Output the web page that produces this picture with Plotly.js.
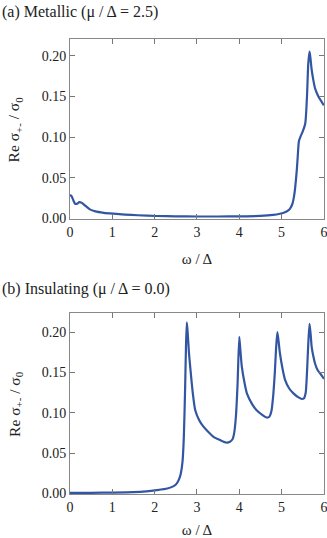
<!DOCTYPE html>
<html>
<head>
<meta charset="utf-8">
<script src="https://cdn.plot.ly/plotly-3.0.1.min.js"></script>
<style>
  html, body { margin: 0; padding: 0; background: #fff; }
  #chart { width: 327px; height: 538px; }
</style>
</head>
<body>
<div id="chart"></div>
<script>
// (a) metallic, mu/Delta = 2.5
var metalW = [0, 0.04, 0.08, 0.12, 0.17, 0.22, 0.28, 0.35, 0.47, 0.6, 0.8, 1.02, 1.3, 1.6, 2.05, 2.5, 3.0, 3.5, 4.0, 4.5, 4.8, 4.96, 5.08, 5.15, 5.2, 5.25, 5.28, 5.31, 5.34, 5.36, 5.38, 5.41, 5.45, 5.5, 5.56, 5.6, 5.63, 5.66, 5.68, 5.71, 5.75, 5.79, 5.85, 5.9, 5.95, 6.0];
var metalS = [0.029, 0.027, 0.022, 0.018, 0.018, 0.020, 0.019, 0.016, 0.011, 0.0085, 0.0068, 0.0057, 0.0046, 0.0038, 0.0029, 0.0025, 0.0023, 0.0023, 0.0025, 0.003, 0.0042, 0.0057, 0.0075, 0.0095, 0.012, 0.017, 0.023, 0.033, 0.048, 0.060, 0.075, 0.095, 0.101, 0.107, 0.117, 0.150, 0.190, 0.205, 0.198, 0.183, 0.170, 0.160, 0.152, 0.147, 0.143, 0.139];

// (b) insulating, mu/Delta = 0.0
var insW = [0, 0.5, 1.02, 1.5, 1.8, 2.05, 2.3, 2.45, 2.52, 2.58, 2.62, 2.66, 2.69, 2.72, 2.74, 2.76, 2.78, 2.81, 2.84, 2.9, 2.96, 3.05, 3.15, 3.27, 3.39, 3.55, 3.7, 3.78, 3.84, 3.88, 3.92, 3.96, 4.0, 4.03, 4.06, 4.12, 4.18, 4.3, 4.41, 4.55, 4.65, 4.71, 4.76, 4.8, 4.84, 4.87, 4.9, 4.93, 4.96, 5.02, 5.08, 5.18, 5.28, 5.4, 5.48, 5.53, 5.57, 5.6, 5.63, 5.66, 5.69, 5.71, 5.75, 5.79, 5.85, 5.92, 6.0];
var insS = [0.0005, 0.0007, 0.001, 0.0015, 0.0025, 0.004, 0.006, 0.009, 0.012, 0.018, 0.025, 0.04, 0.07, 0.13, 0.18, 0.212, 0.20, 0.175, 0.157, 0.125, 0.103, 0.091, 0.083, 0.076, 0.070, 0.066, 0.063, 0.064, 0.067, 0.075, 0.095, 0.136, 0.194, 0.175, 0.157, 0.138, 0.124, 0.111, 0.103, 0.097, 0.094, 0.095, 0.102, 0.12, 0.15, 0.18, 0.200, 0.188, 0.174, 0.155, 0.141, 0.130, 0.124, 0.119, 0.117, 0.118, 0.125, 0.15, 0.185, 0.210, 0.195, 0.182, 0.170, 0.161, 0.153, 0.148, 0.142];

var xTicks = [0, 1, 2, 3, 4, 5, 6];
var yTicks = [0, 0.05, 0.10, 0.15, 0.20];

var LINE = { color: "#3356a2", width: 2.2, shape: "spline", smoothing: 0.6 };
var SERIF = "Liberation Serif, Times New Roman, serif";

var data = [
  { x: metalW, y: metalS, type: "scatter", mode: "lines", line: LINE, xaxis: "x", yaxis: "y", hoverinfo: "skip" },
  { x: insW, y: insS, type: "scatter", mode: "lines", line: LINE, xaxis: "x2", yaxis: "y2", hoverinfo: "skip" }
];

var xAxisStyle = function(anchor) {
  return {
    anchor: anchor,
    range: [0, 6.002],
    tickvals: xTicks,
    ticks: "inside",
    ticklen: 5,
    tickcolor: "#777",
    showline: true,
    linecolor: "#888",
    linewidth: 1,
    mirror: "ticks",
    showgrid: false,
    zeroline: false,
    automargin: false,
    ticklabeloverflow: "allow",
    tickfont: { family: SERIF, size: 14, color: "#222" },
    title: { text: "ω / Δ", font: { family: SERIF, size: 15, color: "#222" }, standoff: 14 }
  };
};

var yAxisStyle = function(anchor, domain, top) {
  return {
    anchor: anchor,
    domain: domain,
    range: [-0.0008, top],
    tickvals: yTicks,
    tickformat: ".2f",
    ticks: "inside",
    ticklen: 5,
    tickcolor: "#777",
    showline: true,
    linecolor: "#888",
    linewidth: 1,
    mirror: "ticks",
    showgrid: false,
    zeroline: false,
    automargin: false,
    tickfont: { family: SERIF, size: 14, color: "#222" }
  };
};

var yTitle = function(yref) {
  return {
    xref: "paper", yref: yref + " domain", x: -0.215, y: 0.5,
    xanchor: "center", yanchor: "middle", textangle: -90, showarrow: false,
    text: "Re σ<sub>+-</sub> / σ<sub>0</sub>",
    font: { family: SERIF, size: 15.5, color: "#222" }
  };
};

var layout = {
  width: 327,
  height: 538,
  margin: { l: 70, r: 3, t: 39, b: 44 },
  showlegend: false,
  paper_bgcolor: "#fff",
  plot_bgcolor: "#fff",
  xaxis: xAxisStyle("y"),
  yaxis: yAxisStyle("x", [0.6044, 1], 0.2205),
  xaxis2: xAxisStyle("y2"),
  yaxis2: yAxisStyle("x2", [0, 0.3978], 0.2236),
  annotations: [
    { xref: "paper", yref: "paper", x: -0.276, y: 1.0593, xanchor: "left", yanchor: "middle", showarrow: false,
      text: "(a) Metallic (μ / Δ = 2.5)", font: { family: SERIF, size: 16, color: "#222" } },
    { xref: "paper", yref: "paper", x: -0.276, y: 0.4505, xanchor: "left", yanchor: "middle", showarrow: false,
      text: "(b) Insulating (μ / Δ = 0.0)", font: { family: SERIF, size: 16, color: "#222" } },
    yTitle("y"),
    yTitle("y2")
  ]
};

Plotly.newPlot(document.getElementById("chart"), data, layout, { displayModeBar: false, staticPlot: true });
</script>
</body>
</html>
